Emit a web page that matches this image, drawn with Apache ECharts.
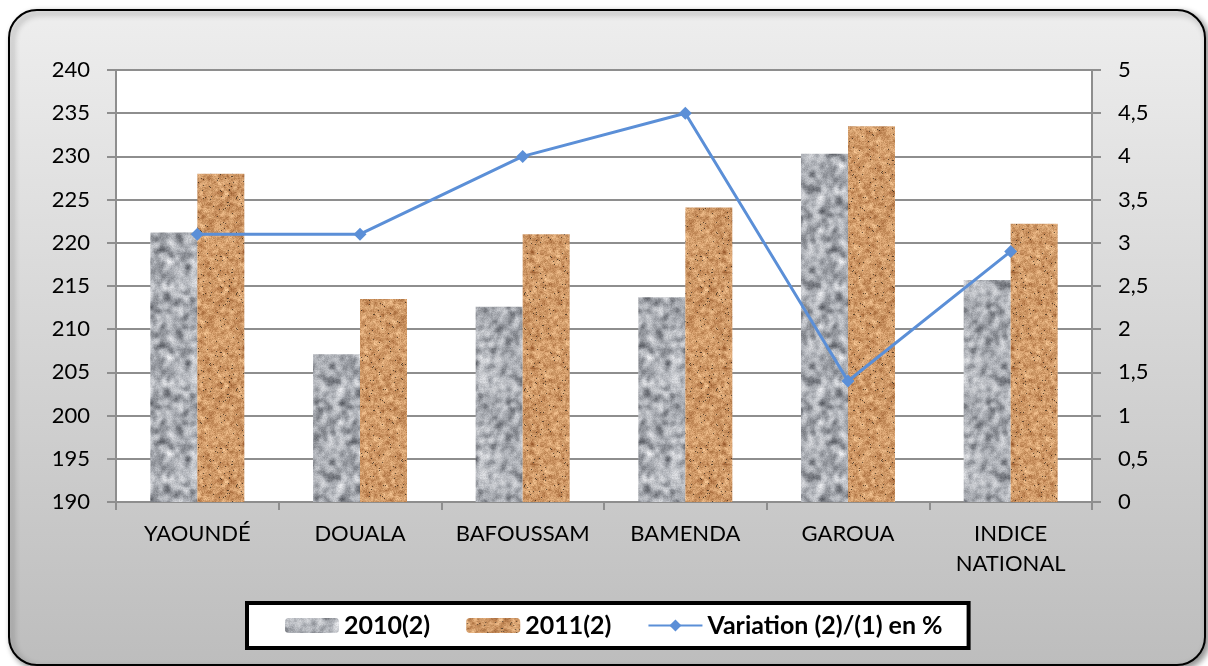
<!DOCTYPE html>
<html>
<head>
<meta charset="utf-8">
<script src="https://cdn.jsdelivr.net/npm/echarts@6/dist/echarts.min.js"></script>
<style>
  html, body { margin: 0; padding: 0; background: #fff; }
  #main { width: 1208px; height: 666px; }
</style>
</head>
<body>
<div id="main"></div>
<script>
const categories = ['YAOUNDÉ', 'DOUALA', 'BAFOUSSAM', 'BAMENDA', 'GAROUA', 'INDICE\nNATIONAL'];
const values2010 = [221.2, 207.1, 212.6, 213.7, 230.3, 215.7];
const values2011 = [228.0, 213.5, 221.0, 224.1, 233.5, 222.2];
const variation = [3.1, 3.1, 4.0, 4.5, 1.4, 2.9];

// seeded noise, only used to paint the bar textures
function seeded(s) {
    return function () {
        s |= 0; s = s + 0x6D2B79F5 | 0;
        let t = Math.imul(s ^ s >>> 15, 1 | s);
        t = t + Math.imul(t ^ t >>> 7, 61 | t) ^ t;
        return ((t ^ t >>> 14) >>> 0) / 4294967296;
    };
}

// tileable smooth noise: random field blurred with wrap-around
function noiseField(rnd, n, radius, passes) {
    let f = new Float32Array(n * n);
    for (let i = 0; i < f.length; i++) f[i] = rnd();
    for (let p = 0; p < passes; p++) {
        const g = new Float32Array(n * n);
        for (let y = 0; y < n; y++) {
            for (let x = 0; x < n; x++) {
                let s = 0, c = 0;
                for (let dy = -radius; dy <= radius; dy++) {
                    for (let dx = -radius; dx <= radius; dx++) {
                        s += f[((y + dy + n) % n) * n + ((x + dx + n) % n)];
                        c++;
                    }
                }
                g[y * n + x] = s / c;
            }
        }
        f = g;
    }
    let lo = Infinity, hi = -Infinity;
    for (const v of f) { lo = Math.min(lo, v); hi = Math.max(hi, v); }
    for (let i = 0; i < f.length; i++) f[i] = (f[i] - lo) / (hi - lo);
    return f;
}

function makeTexture(seed, stops, radius, grain, specks) {
    const n = 96;
    const rnd = seeded(seed);
    const f = noiseField(rnd, n, radius, 2);
    const cv = document.createElement('canvas');
    cv.width = n; cv.height = n;
    const ctx = cv.getContext('2d');
    const img = ctx.createImageData(n, n);
    for (let i = 0; i < n * n; i++) {
        const k = f[i];
        const a = k < 0.5 ? stops[0] : stops[1];
        const b = k < 0.5 ? stops[1] : stops[2];
        const t = k < 0.5 ? k * 2 : (k - 0.5) * 2;
        let d = (rnd() - 0.5) * grain;
        let dark = rnd() < specks ? 0.45 : 1;
        for (let c = 0; c < 3; c++) {
            img.data[i * 4 + c] = Math.max(0, Math.min(255, (a[c] + (b[c] - a[c]) * t + d) * dark));
        }
        img.data[i * 4 + 3] = 255;
    }
    ctx.putImageData(img, 0, 0);
    return cv;
}

const grayTex = makeTexture(7, [[92, 95, 102], [175, 178, 184], [236, 237, 240]], 2, 24, 0);
const brownTex = makeTexture(13, [[160, 98, 52], [205, 150, 100], [238, 190, 140]], 1, 36, 0.02);

const myChart = echarts.init(document.getElementById('main'));
const font = 'Lato, "Open Sans", sans-serif';

myChart.setOption({
    animation: false,
    textStyle: { fontFamily: font },
    graphic: [{
        type: 'rect',
        z: -10,
        shape: { x: 9, y: 10, width: 1196, height: 655, r: 28 },
        style: {
            fill: new echarts.graphic.LinearGradient(0, 0, 0, 1, [
                { offset: 0, color: '#eeeeee' },
                { offset: 1, color: '#bdbdbd' }
            ]),
            stroke: '#000',
            lineWidth: 2,
            shadowBlur: 6,
            shadowOffsetX: 3,
            shadowOffsetY: 3,
            shadowColor: 'rgba(0,0,0,0.45)'
        }
    }],
    grid: {
        left: 116, right: 116, top: 70, bottom: 164,
        show: true, backgroundColor: '#fff', borderWidth: 0
    },
    legend: {
        left: 247, top: 603,
        padding: [10, 26, 10, 38],
        backgroundColor: '#fff',
        borderColor: '#000',
        borderWidth: 4,
        itemWidth: 54,
        itemHeight: 15,
        itemGap: 36,
        textStyle: { fontSize: 25, fontWeight: 'bold', color: '#000', fontFamily: font },
        data: ['2010(2)', '2011(2)', 'Variation (2)/(1) en %']
    },
    xAxis: {
        type: 'category',
        data: categories,
        axisLine: { lineStyle: { color: '#8e8e8e', width: 2 } },
        axisTick: { show: true, length: 8, lineStyle: { color: '#8e8e8e', width: 2 } },
        axisLabel: { fontSize: 22, color: '#000', margin: 17, lineHeight: 30, interval: 0 }
    },
    yAxis: [{
        type: 'value',
        min: 190, max: 240, interval: 5,
        axisLine: { show: true, lineStyle: { color: '#8e8e8e', width: 2 } },
        axisTick: { show: true, length: 9, lineStyle: { color: '#8e8e8e', width: 2 } },
        splitLine: { lineStyle: { color: '#8e8e8e', width: 2 } },
        axisLabel: { fontSize: 22, color: '#000', margin: 26 }
    }, {
        type: 'value',
        min: 0, max: 5, interval: 0.5,
        axisLine: { show: true, lineStyle: { color: '#8e8e8e', width: 2 } },
        axisTick: { show: true, length: 9, lineStyle: { color: '#8e8e8e', width: 2 } },
        splitLine: { show: false },
        axisLabel: {
            fontSize: 22, color: '#000', margin: 26,
            formatter: v => String(v).replace('.', ',')
        }
    }],
    series: [{
        name: '2010(2)',
        type: 'bar',
        data: values2010,
        barWidth: 47,
        barGap: '0%',
        itemStyle: { color: { image: grayTex, repeat: 'repeat' } }
    }, {
        name: '2011(2)',
        type: 'bar',
        data: values2011,
        barWidth: 47,
        barGap: '0%',
        itemStyle: { color: { image: brownTex, repeat: 'repeat' } }
    }, {
        name: 'Variation (2)/(1) en %',
        type: 'line',
        yAxisIndex: 1,
        data: variation,
        symbol: 'diamond',
        symbolSize: 13,
        lineStyle: { color: '#5b8fd7', width: 3 },
        itemStyle: { color: '#5b8fd7' },
        z: 5
    }]
});
</script>
</body>
</html>
